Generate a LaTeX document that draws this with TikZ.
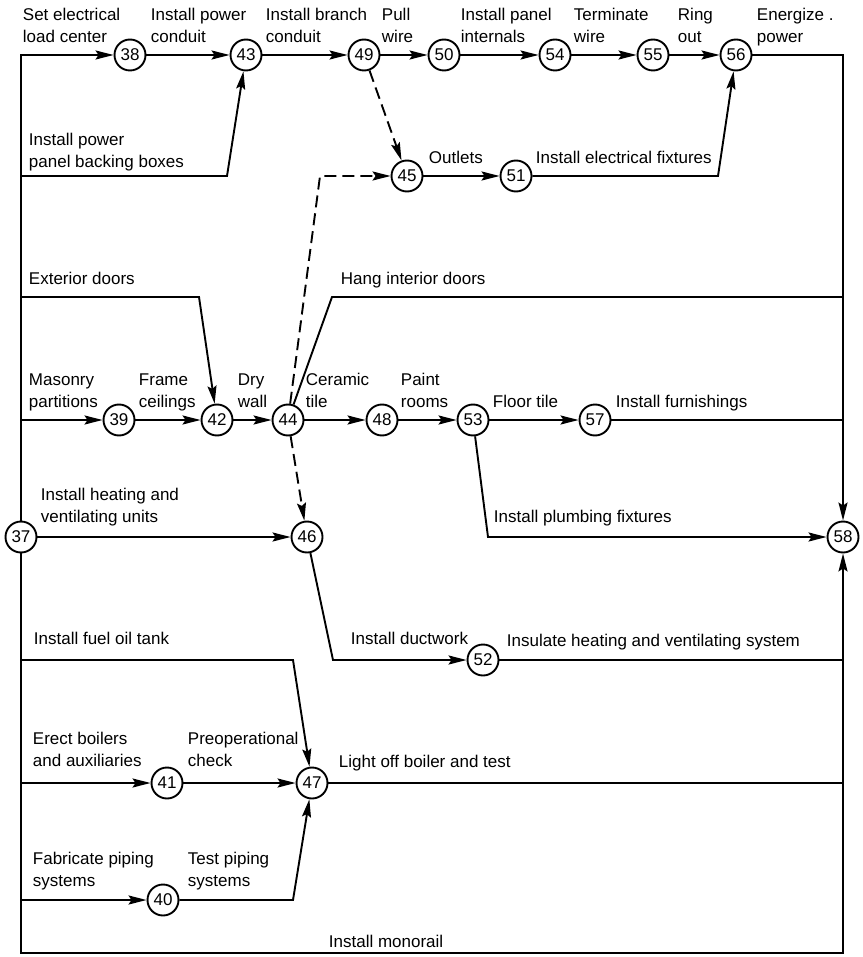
\documentclass[tikz,border=0pt]{standalone}
\usepackage{fontspec}
\setmainfont{Liberation Sans}
\usetikzlibrary{arrows.meta}

\begin{document}
\begin{tikzpicture}[
    x=1pt, y=-1pt,
    font=\fontsize{17}{22}\selectfont,
    line width=1.9pt,
    evt/.style={draw, circle, minimum size=31pt, inner sep=0pt, fill=white},
    lbl/.style={anchor=south west, align=left, inner sep=0pt, text depth=0pt},
    arr/.style={-{Stealth[length=18pt,width=9pt,inset=3pt]}},
    darr/.style={arr, dash pattern=on 12pt off 6pt}
]
\useasboundingbox (0,0) rectangle (862,957);

% events
\node[evt] (n37) at (21,537) {37};
\node[evt] (n38) at (130,55) {38};
\node[evt] (n43) at (246,55) {43};
\node[evt] (n49) at (364,55) {49};
\node[evt] (n50) at (444,55) {50};
\node[evt] (n54) at (555,55) {54};
\node[evt] (n55) at (653,55) {55};
\node[evt] (n56) at (736,55) {56};
\node[evt] (n45) at (407,176) {45};
\node[evt] (n51) at (516,176) {51};
\node[evt] (n39) at (119,420) {39};
\node[evt] (n42) at (217,420) {42};
\node[evt] (n44) at (288,420) {44};
\node[evt] (n48) at (382,420) {48};
\node[evt] (n53) at (473,420) {53};
\node[evt] (n57) at (595,420) {57};
\node[evt] (n46) at (307,537) {46};
\node[evt] (n58) at (843,537) {58};
\node[evt] (n52) at (483,660) {52};
\node[evt] (n41) at (167,783) {41};
\node[evt] (n47) at (312,783) {47};
\node[evt] (n40) at (163,900) {40};

% bends and joins
\coordinate (b43) at (227,176);
\coordinate (c51) at (718,176);
\coordinate (d45) at (320,176);
\coordinate (b42) at (199,297);
\coordinate (b44) at (332,297);
\coordinate (r297) at (843,297);
\coordinate (r420) at (843,420);
\coordinate (b58) at (488,537);
\coordinate (b47) at (293,660);
\coordinate (b52) at (333,660);
\coordinate (r660) at (843,660);
\coordinate (r783) at (843,783);
\coordinate (b40) at (293,900);
\coordinate (bot) at (843,953);

% activities leaving 37
\draw[arr] (n37) |- (n38);
\draw[arr] (n37) |- (b43) -- (n43);
\draw[arr] (n37) |- (b42) -- (n42);
\draw[arr] (n37) |- (n39);
\draw[arr] (n37) -- (n46);
\draw[arr] (n37) |- (b47) -- (n47);
\draw[arr] (n37) |- (n41);
\draw[arr] (n37) |- (n40);
\draw[arr] (n37) |- (bot) -- (n58);

% electrical
\draw[arr] (n38) -- (n43);
\draw[arr] (n43) -- (n49);
\draw[arr] (n49) -- (n50);
\draw[arr] (n50) -- (n54);
\draw[arr] (n54) -- (n55);
\draw[arr] (n55) -- (n56);
\draw[arr] (n56) -| (n58);
\draw[darr] (n49) -- (n45);
\draw[arr] (n45) -- (n51);
\draw[arr] (n51) -- (c51) -- (n56);

% finishes
\draw[arr] (n39) -- (n42);
\draw[arr] (n42) -- (n44);
\draw[arr] (n44) -- (n48);
\draw[arr] (n48) -- (n53);
\draw[arr] (n53) -- (n57);
\draw (n57) -- (r420);
\draw (n44) -- (b44) -- (r297);
\draw[darr] (n44) -- (d45) -- (n45);
\draw[darr] (n44) -- (n46);
\draw[arr] (n53) -- (b58) -- (n58);

% heating
\draw[arr] (n46) -- (b52) -- (n52);
\draw (n52) -- (r660);
\draw[arr] (n41) -- (n47);
\draw[arr] (n40) -- (b40) -- (n47);
\draw (n47) -- (r783);

% labels
\node[lbl] (l38) at (22,43) {Set electrical\\load center};
\node[lbl] (l43) at (150,43) {Install power\\conduit};
\node[lbl] (l49) at (265,43) {Install branch\\conduit};
\node[lbl] (l50) at (381,43) {Pull\\wire};
\node[lbl] (l54) at (460,43) {Install panel\\internals};
\node[lbl] (l55) at (573,43) {Terminate\\wire};
\node[lbl] (l56) at (677,43) {Ring\\out};
\node[lbl] (l58a) at (756,43) {Energize .\\power};
\node[lbl] (lb43) at (28,168) {Install power\\panel backing boxes};
\node[lbl] (l51) at (428,164) {Outlets};
\node[lbl] (lc51) at (535,164) {Install electrical fixtures};
\node[lbl] (lb42) at (28,285) {Exterior doors};
\node[lbl] (lb44) at (340,285) {Hang interior doors};
\node[lbl] (l39) at (28,408) {Masonry\\partitions};
\node[lbl] (l42) at (138,408) {Frame\\ceilings};
\node[lbl] (l44) at (237,408) {Dry\\wall};
\node[lbl] (l48) at (305,408) {Ceramic\\tile};
\node[lbl] (l53) at (400,408) {Paint\\rooms};
\node[lbl] (l57) at (492,408) {Floor tile};
\node[lbl] (lr420) at (615,408) {Install furnishings};
\node[lbl] (l46) at (40,523) {Install heating and\\ventilating units};
\node[lbl] (lb58) at (493,523) {Install plumbing fixtures};
\node[lbl] (lb47) at (33,645) {Install fuel oil tank};
\node[lbl] (l52) at (350,645) {Install ductwork};
\node[lbl] (lr660) at (506,647) {Insulate heating and ventilating system};
\node[lbl] (l41) at (32,767) {Erect boilers\\and auxiliaries};
\node[lbl] (l47) at (187,767) {Preoperational\\check};
\node[lbl] (lr783) at (338,768) {Light off boiler and test};
\node[lbl] (l40) at (32,887) {Fabricate piping\\systems};
\node[lbl] (lb40) at (187,887) {Test piping\\systems};
\node[lbl] (lbot) at (328,948) {Install monorail};
\end{tikzpicture}
\end{document}
